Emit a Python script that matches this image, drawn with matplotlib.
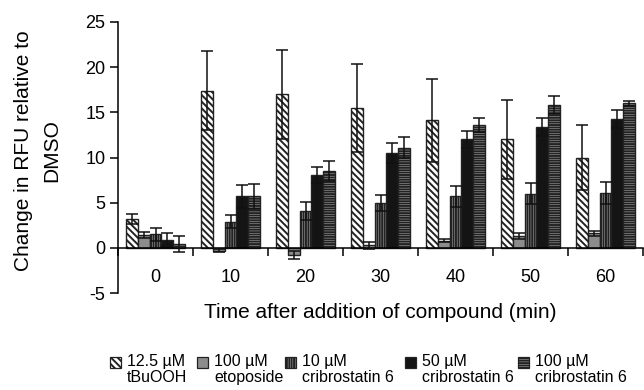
import matplotlib
matplotlib.use("Agg")
import matplotlib.pyplot as plt
import numpy as np
from matplotlib.patches import Rectangle

plt.rcParams['font.family'] = ['Liberation Sans', 'DejaVu Sans']
plt.rcParams['hatch.linewidth'] = 1.4

categories = ['0', '10', '20', '30', '40', '50', '60']
tbu = [3.2, 17.4, 17.0, 15.5, 14.1, 12.0, 10.0]
tbu_err = [0.6, 4.4, 4.9, 4.9, 4.6, 4.4, 3.6]
eto = [1.4, -0.3, -0.8, 0.3, 0.8, 1.3, 1.6]
eto_err = [0.3, 0.2, 0.4, 0.4, 0.2, 0.3, 0.3]
c10 = [1.5, 2.9, 4.1, 5.0, 5.7, 6.0, 6.1]
c10_err = [0.7, 0.7, 1.0, 0.9, 1.2, 1.2, 1.2]
c50 = [0.9, 5.7, 8.1, 10.5, 12.0, 13.4, 14.3]
c50_err = [0.7, 1.3, 0.9, 1.1, 0.9, 1.0, 1.0]
c100 = [0.4, 5.7, 8.5, 11.1, 13.6, 15.8, 16.0]
c100_err = [0.9, 1.4, 1.1, 1.2, 0.8, 1.0, 0.3]

series_labels = ['12.5 µM\ntBuOOH', '100 µM\netoposide', '10 µM\ncribrostatin 6',
                 '50 µM\ncribrostatin 6', '100 µM\ncribrostatin 6']
values = [tbu, eto, c10, c50, c100]
errors = [tbu_err, eto_err, c10_err, c50_err, c100_err]
styles = [
    dict(facecolor='white', hatch='\\\\\\\\\\'),
    dict(facecolor='#8c8c8c', hatch=None),
    dict(facecolor='#c4c4c4', hatch='|||||||'),
    dict(facecolor='#141414', hatch=None),
    dict(facecolor='#c8c8c8', hatch='-------'),
]

fig = plt.figure(figsize=(6.44, 3.90), dpi=100)
ax = fig.add_axes([118/644, 1-293/390, 525/644, (293-22)/390])

x = np.arange(len(categories))
w = 0.156
for k, (v, e, st) in enumerate(zip(values, errors, styles)):
    pos = x + (k - 2) * w
    ax.bar(pos, v, width=w, edgecolor='#222222', linewidth=1.0, zorder=2, **st)
    ax.errorbar(pos, v, yerr=e, fmt='none', ecolor='#111111', elinewidth=1.1,
                capsize=4, capthick=1.1, zorder=3)

ax.set_xlim(-0.5, 6.5)
ax.set_ylim(-5, 25)
ax.set_yticks([-5, 0, 5, 10, 15, 20, 25])
ax.set_yticklabels(['-5', '0', '5', '10', '15', '20', '25'])
ax.spines['top'].set_visible(False)
ax.spines['right'].set_visible(False)
ax.spines['bottom'].set_position(('data', 0))
ax.spines['left'].set_linewidth(1.1)
ax.spines['bottom'].set_linewidth(1.1)
ax.set_xticks(x)
ax.set_xticklabels(categories)
ax.set_xticks(np.arange(-0.5, 7.0, 1.0), minor=True)
ax.tick_params(axis='x', which='major', length=0, pad=15, labelsize=13)
ax.tick_params(axis='x', which='minor', length=6, width=1.1, direction='out')
ax.tick_params(axis='y', length=6, width=1.1, direction='out', labelsize=13, pad=3)

fig.text(380/644, 1-312/390, 'Time after addition of compound (min)', ha='center', va='center', fontsize=15)
fig.text(24/644, 1-151/390, 'Change in RFU relative to', rotation=90, ha='center', va='center', fontsize=15)
fig.text(52/644, 1-151/390, 'DMSO', rotation=90, ha='center', va='center', fontsize=15)

# legend drawn manually
patch_x = [110, 197, 285, 405, 518]
for k, st in enumerate(styles):
    px = patch_x[k]
    r = Rectangle((px/644, 1-368/390), 11/644, 11/390, transform=fig.transFigure,
                  edgecolor='#222222', linewidth=0.9, **st)
    fig.add_artist(r)
    fig.text((px + 17)/644, 1-354/390, series_labels[k], ha='left', va='top',
             fontsize=11.5, linespacing=1.1, transform=fig.transFigure)

fig.savefig('out.png', dpi=100)
